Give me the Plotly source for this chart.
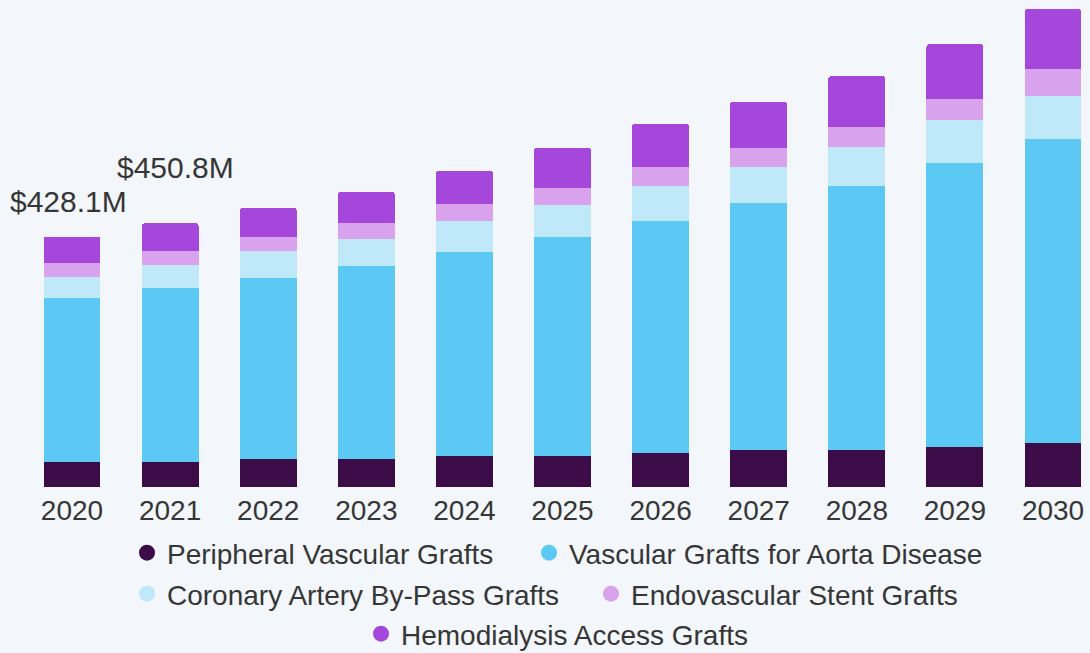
import plotly.graph_objects as go

years = [2020, 2021, 2022, 2023, 2024, 2025, 2026, 2027, 2028, 2029, 2030]
peripheral = [42.8, 42.8, 47.9, 47.9, 53.0, 53.0, 58.1, 63.3, 63.3, 68.4, 75.2]
aorta = [281.0, 296.9, 309.5, 330.0, 348.8, 374.5, 396.7, 422.4, 451.4, 485.6, 519.8]
coronary = [35.9, 39.3, 46.2, 46.2, 53.0, 54.7, 59.9, 61.6, 66.7, 73.5, 73.5]
endovascular = [23.9, 23.9, 23.9, 27.4, 29.1, 29.1, 32.5, 32.5, 34.2, 35.9, 46.2]
hemodialysis = [44.5, 47.9, 49.6, 53.0, 56.4, 68.4, 73.5, 78.7, 87.2, 94.1, 102.6]

series_names = [
    "Peripheral Vascular Grafts",
    "Vascular Grafts for Aorta Disease",
    "Coronary Artery By-Pass Grafts",
    "Endovascular Stent Grafts",
    "Hemodialysis Access Grafts",
]
series_values = [peripheral, aorta, coronary, endovascular, hemodialysis]
colors = ["#3b0c47", "#5bc9f3", "#bfe9f9", "#d8a2ec", "#a647dc"]

label_years = [2020, 2021]
label_texts = ["$428.1M", "$450.8M"]

FONT = "Liberation Sans, Arial, sans-serif"
TEXT_COLOR = "#363636"
W, H = 1090, 653

fig = go.Figure()
for name, vals, col in zip(series_names, series_values, colors):
    fig.add_trace(go.Bar(x=years, y=vals, name=name, marker=dict(color=col, line=dict(width=0)),
                         width=0.58, showlegend=False, hoverinfo="skip"))

# legend entries (circle markers), one legend per entry for exact placement
legend_pos = [(147, 553), (549, 553), (147, 594), (611, 594), (381, 634)]
legend_keys = ["legend", "legend2", "legend3", "legend4", "legend5"]
for name, col, key in zip(series_names, colors, legend_keys):
    fig.add_trace(go.Scatter(x=[None], y=[None], mode="markers", name=name,
                             marker=dict(color=col, size=16, symbol="circle"),
                             legend=key, showlegend=True))

legend_layouts = {}
for key, (mx, my) in zip(legend_keys, legend_pos):
    legend_layouts[key] = dict(
        orientation="h", xref="container", yref="container",
        x=(mx - 20) / W, y=1 - my / H, xanchor="left", yanchor="middle",
        bgcolor="rgba(0,0,0,0)", borderwidth=0,
        font=dict(family=FONT, size=28, color=TEXT_COLOR),
    )

totals = [sum(v) for v in zip(*series_values)]
shifts = {2020: (-4, 35), 2021: (5, 56)}
for yr, txt in zip(label_years, label_texts):
    i = years.index(yr)
    xs, ys = shifts[yr]
    fig.add_annotation(x=yr, y=totals[i], text=txt, showarrow=False,
                       xanchor="center", yanchor="middle", xshift=xs, yshift=ys,
                       font=dict(family=FONT, size=30, color=TEXT_COLOR))

fig.update_layout(
    width=W, height=H,
    barmode="stack",
    barcornerradius=3,
    paper_bgcolor="#f3f6fa", plot_bgcolor="#f3f6fa",
    margin=dict(l=0, r=0, t=5, b=166),
    font=dict(family=FONT, color=TEXT_COLOR),
    xaxis=dict(range=[2019.266, 2030.377], tickmode="array", tickvals=years,
               ticktext=[str(y) for y in years], showgrid=False, zeroline=False,
               showline=False, ticks="", ticklabelstandoff=4,
               tickfont=dict(family=FONT, size=28, color=TEXT_COLOR)),
    yaxis=dict(range=[0, 824.2], showgrid=False, zeroline=False, showline=False,
               showticklabels=False, ticks=""),
    **legend_layouts,
)

fig.write_html("out.html", config={"displayModeBar": False},
               post_script="document.body.style.margin='0';")
